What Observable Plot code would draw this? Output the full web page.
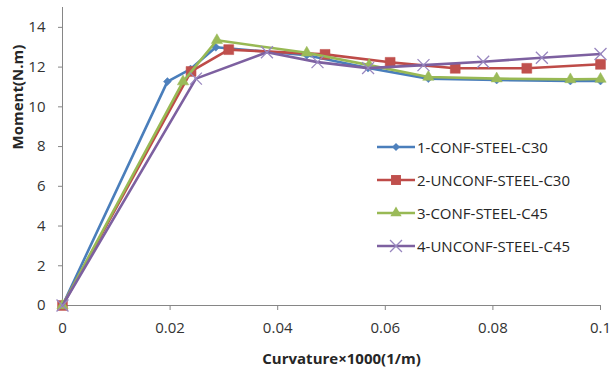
<!DOCTYPE html>
<html>
<head>
<meta charset="utf-8">
<script src="https://cdn.jsdelivr.net/npm/d3@7"></script>
<script src="https://cdn.jsdelivr.net/npm/@observablehq/plot@0.6"></script>
<style>
  html, body { margin: 0; padding: 0; background: #fff; }
  #wrap { position: relative; width: 610px; height: 371px; }
  #legend { position: absolute; left: 376px; top: 130px; font-family: "Open Sans", "Liberation Sans", sans-serif; font-size: 15px; color: #262626; }
  #legend .item { display: flex; align-items: center; height: 33px; }
  #legend svg { margin-right: 1px; }
</style>
</head>
<body>
<div id="wrap"></div>
<script>
const seriesNames = ["1-CONF-STEEL-C30", "2-UNCONF-STEEL-C30", "3-CONF-STEEL-C45", "4-UNCONF-STEEL-C45"];
const lineColors = ["#4A7EBB", "#BE4B48", "#98B954", "#7D60A0"];
const markerColors = ["#4F81BD", "#C0504D", "#9BBB59", "#9886BF"];
const symbols = ["diamond2", "square", "triangle", "times"];

const s1x = [0, 0.0195, 0.0238, 0.0285, 0.0454, 0.0568, 0.068, 0.0807, 0.0944, 0.1];
const s1y = [0, 11.27, 11.9, 13.0, 12.6, 11.95, 11.42, 11.35, 11.3, 11.3];
const s2x = [0, 0.0239, 0.0309, 0.0488, 0.0609, 0.073, 0.0863, 0.1];
const s2y = [0, 11.78, 12.88, 12.64, 12.24, 11.94, 11.94, 12.14];
const s3x = [0, 0.0224, 0.0287, 0.0454, 0.057, 0.068, 0.0807, 0.0944, 0.1];
const s3y = [0, 11.27, 13.35, 12.72, 12.1, 11.5, 11.42, 11.38, 11.4];
const s4x = [0, 0.0248, 0.038, 0.0474, 0.0568, 0.0671, 0.0782, 0.0891, 0.1];
const s4y = [0, 11.42, 12.75, 12.25, 11.95, 12.1, 12.27, 12.47, 12.66];

const xTicks = [0, 0.02, 0.04, 0.06, 0.08, 0.1];
const xTickLabels = ["0", "0.02", "0.04", "0.06", "0.08", "0.1"];
const yTicks = [0, 2, 4, 6, 8, 10, 12, 14];

const allX = [s1x, s2x, s3x, s4x];
const allY = [s1y, s2y, s3y, s4y];
const series = allX.map((xs, i) => xs.map((x, j) => ({x, y: allY[i][j], s: i})));

const marks = [
  Plot.ruleX([0], {stroke: "#868686", y1: 0, y2: 15}),
  Plot.ruleY([0], {stroke: "#868686", x1: 0, x2: 0.1}),
  Plot.axisX({ticks: xTicks, tickFormat: d => xTickLabels[xTicks.indexOf(d)], tickSize: 5, tickPadding: 12, stroke: "#868686", fill: "#333", fontSize: 15, label: null}),
  Plot.axisY({ticks: yTicks, tickSize: 4, tickPadding: 13, stroke: "#868686", fill: "#333", fontSize: 15, label: null})
];
series.forEach((data, i) => {
  marks.push(Plot.line(data, {x: "x", y: "y", stroke: lineColors[i], strokeWidth: 2.6}));
  if (symbols[i] === "times") {
    marks.push(Plot.dot(data, {x: "x", y: "y", symbol: "times", r: 5.5, stroke: markerColors[i], strokeWidth: 1.3}));
  } else {
    const r = symbols[i] === "square" ? 5.6 : symbols[i] === "triangle" ? 4.2 : 3.6;
    marks.push(Plot.dot(data, {x: "x", y: "y", symbol: symbols[i], r, fill: markerColors[i], stroke: markerColors[i], strokeWidth: 0.5}));
  }
});
marks.push(Plot.text(["Curvature×1000(1/m)"], {frameAnchor: "bottom", dx: 10, dy: 58, fontWeight: "bold", fontSize: 15, fill: "#262626"}));
marks.push(Plot.text(["Moment(N.m)"], {frameAnchor: "left", dx: -44, dy: -7, rotate: -90, fontWeight: "bold", fontSize: 15, fill: "#262626"}));

const chart = Plot.plot({
  width: 610,
  height: 371,
  marginLeft: 62,
  marginRight: 10,
  marginTop: 7,
  marginBottom: 66,
  style: {fontFamily: "'Open Sans', 'Liberation Sans', sans-serif", background: "#fff", overflow: "visible"},
  x: {domain: [0, 0.1]},
  y: {domain: [0, 15]},
  marks
});
const wrap = document.getElementById("wrap");
wrap.appendChild(chart);

const legend = document.createElement("div");
legend.id = "legend";
seriesNames.forEach((name, i) => {
  const item = document.createElement("div");
  item.className = "item";
  const sw = d3.create("svg").attr("width", 40).attr("height", 14);
  sw.append("line").attr("x1", 1).attr("x2", 39).attr("y1", 7).attr("y2", 7).attr("stroke", lineColors[i]).attr("stroke-width", 2.6);
  const sym = {diamond2: d3.symbolDiamond2, square: d3.symbolSquare, triangle: d3.symbolTriangle, times: d3.symbolTimes}[symbols[i]];
  const r = symbols[i] === "square" ? 5.6 : symbols[i] === "triangle" ? 4.2 : symbols[i] === "times" ? 5.5 : 3.6;
  const p = sw.append("path").attr("transform", "translate(20,7)").attr("d", d3.symbol(sym, Math.PI * r * r)());
  if (symbols[i] === "times") p.attr("fill", "none").attr("stroke", markerColors[i]).attr("stroke-width", 1.3);
  else p.attr("fill", markerColors[i]);
  item.appendChild(sw.node());
  const t = document.createElement("span");
  t.textContent = name;
  item.appendChild(t);
  legend.appendChild(item);
});
wrap.appendChild(legend);
</script>
</body>
</html>
